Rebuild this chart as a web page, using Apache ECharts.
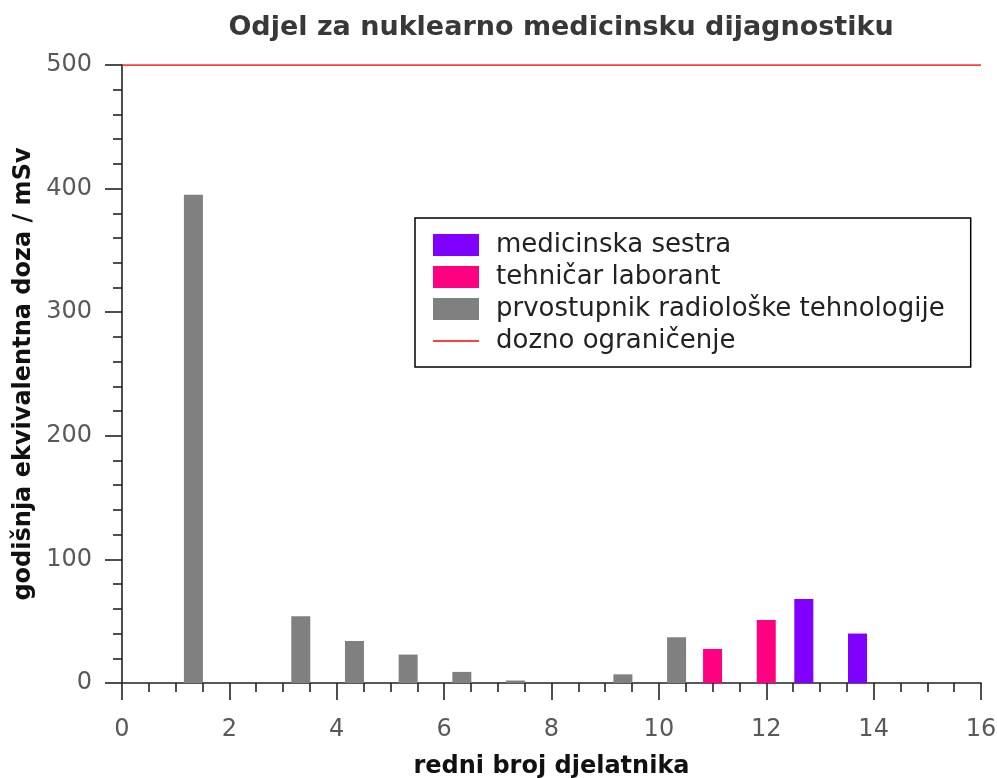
<!DOCTYPE html>
<html>
<head>
<meta charset="utf-8">
<script src="https://cdn.jsdelivr.net/npm/echarts@6/dist/echarts.min.js"></script>
<style>html,body{margin:0;padding:0;background:#fff}#c{width:997px;height:778px}</style>
</head>
<body>
<div id="c"></div>
<script>
var titleText = 'Odjel za nuklearno medicinsku dijagnostiku';
var xName = 'redni broj djelatnika';
var yName = 'godišnja ekvivalentna doza / mSv';
var seriesNames = ['medicinska sestra', 'tehničar laborant', 'prvostupnik radiološke tehnologije', 'dozno ograničenje'];

var sestraX = [12.7, 13.7];
var sestraY = [68, 40];
var tehnicarX = [11, 12];
var tehnicarY = [27.5, 51];
var prvostupnikX = [1.33, 3.33, 4.33, 5.33, 6.33, 7.33, 9.33, 10.33];
var prvostupnikY = [395, 54, 34, 23, 9, 2, 7, 37];
var limitX = [0, 16];
var limitY = [500, 500];

function pairs(xs, ys) { return xs.map(function (x, i) { return [x, ys[i]]; }); }

var FONT = 'DejaVu Sans';
var chart = echarts.init(document.getElementById('c'), null, { renderer: 'canvas' });
var barCommon = { type: 'bar', barWidth: 19, barGap: '-100%' };
chart.setOption({
  animation: false,
  backgroundColor: '#fff',
  textStyle: { fontFamily: FONT },
  title: {
    text: titleText,
    left: 556, top: 9, textAlign: 'center',
    textStyle: { fontFamily: FONT, fontSize: 27, fontWeight: 'bold', color: '#383838' }
  },
  grid: { left: 122, right: 16, top: 65, bottom: 95, containLabel: false, outerBoundsMode: 'none' },
  legend: {
    orient: 'vertical', left: 415, top: 218,
    padding: [14, 26, 13, 18],
    itemWidth: 46, itemHeight: 22, itemGap: 6,
    borderColor: '#000', borderWidth: 1.5,
    textStyle: { fontFamily: FONT, fontSize: 26, color: '#222', padding: [0, 0, 0, 12] },
    data: [
      { name: seriesNames[0], icon: 'rect' },
      { name: seriesNames[1], icon: 'rect' },
      { name: seriesNames[2], icon: 'rect' },
      { name: seriesNames[3], icon: 'path://M0,0 L50,0 L50,1.6 L0,1.6 Z' }
    ]
  },
  xAxis: {
    type: 'value', min: 0, max: 16, interval: 2,
    name: xName, nameLocation: 'middle', nameGap: 72,
    nameTextStyle: { fontFamily: FONT, fontSize: 24, fontWeight: 'bold', color: '#111' },
    axisLine: { lineStyle: { color: '#222', width: 1.6 } },
    axisTick: { show: true, inside: false, length: 17, lineStyle: { color: '#222', width: 1.6 } },
    minorTick: { show: true, splitNumber: 4, length: 9, lineStyle: { color: '#222', width: 1.6 } },
    axisLabel: { fontFamily: FONT, fontSize: 24, color: '#595959', margin: 35 },
    splitLine: { show: false }
  },
  yAxis: {
    type: 'value', min: 0, max: 500, interval: 100,
    name: yName, nameLocation: 'middle', nameGap: 82, nameRotate: 90,
    nameTextStyle: { fontFamily: FONT, fontSize: 24, fontWeight: 'bold', color: '#111' },
    axisLine: { show: true, lineStyle: { color: '#222', width: 1.6 } },
    axisTick: { show: true, inside: false, length: 17, lineStyle: { color: '#222', width: 1.6 } },
    minorTick: { show: true, splitNumber: 5, length: 9, lineStyle: { color: '#222', width: 1.6 } },
    axisLabel: { fontFamily: FONT, fontSize: 24, color: '#595959', margin: 30 },
    splitLine: { show: false }
  },
  series: [
    Object.assign({ name: seriesNames[0], data: pairs(sestraX, sestraY), itemStyle: { color: '#7f00ff' } }, barCommon),
    Object.assign({ name: seriesNames[1], data: pairs(tehnicarX, tehnicarY), itemStyle: { color: '#ff0080' } }, barCommon),
    Object.assign({ name: seriesNames[2], data: pairs(prvostupnikX, prvostupnikY), itemStyle: { color: '#808080' } }, barCommon),
    {
      name: seriesNames[3], type: 'line', data: pairs(limitX, limitY),
      symbol: 'none', lineStyle: { color: '#ff0000', width: 1.5 }, itemStyle: { color: '#ff0000' }, z: 5
    }
  ]
});
</script>
</body>
</html>
